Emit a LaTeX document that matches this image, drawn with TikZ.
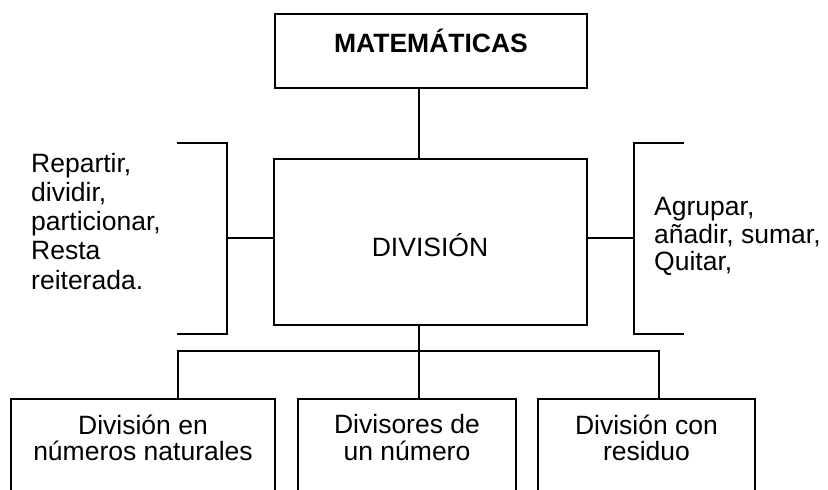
\documentclass[tikz,border=0pt]{standalone}
\usepackage{fontspec}
\setmainfont{Liberation Sans}
\begin{document}
\begin{tikzpicture}[x=1pt,y=-1pt,
  ln/.style={line width=1.7pt,line cap=rect},
  box/.style={draw,line width=1.7pt,rectangle,inner sep=0pt},
  txt/.style={inner sep=0pt,font=\fontsize{26.5}{29.25}\selectfont}]
\useasboundingbox (0,0) rectangle (828,490);
\clip (0,0) rectangle (828,490);
% boxes
\node[box,minimum width=312pt,minimum height=74pt] (mat) at (431,51) {};
\node[box,minimum width=313pt,minimum height=166pt] (div) at (430.5,242) {};
\node[box,minimum width=264pt,minimum height=160pt] (b1) at (143,479) {};
\node[box,minimum width=218pt,minimum height=160pt] (b2) at (407,479) {};
\node[box,minimum width=217pt,minimum height=160pt] (b3) at (646.5,479) {};
% texts
\node[txt,anchor=base,font=\fontsize{26.5}{29.25}\selectfont\bfseries] (tmat) at (431,52) {MATEMÁTICAS};
\node[txt,anchor=base] (tdiv) at (430,256) {DIVISIÓN};
\node[txt,anchor=north west,align=left] (tleft) at (31,152.7) {Repartir,\\dividir,\\particionar,\\Resta\\reiterada.};
\node[txt,anchor=north west,align=left,font=\fontsize{26.5}{27.5}\selectfont] (tright) at (654,197.5) {Agrupar,\\añadir, sumar,\\Quitar,};
\node[txt,anchor=north,align=center,font=\fontsize{26.5}{26.5}\selectfont] (t1) at (143,414.5) {División en\\números naturales};
\node[txt,anchor=north,align=center,font=\fontsize{26.5}{26.5}\selectfont] (t2) at (407,414.5) {Divisores de\\un número};
\node[txt,anchor=north,align=center,font=\fontsize{26.5}{26.5}\selectfont] (t3) at (646.5,414.5) {División con\\residuo};
% coordinates
\coordinate (cx) at (419,0);
\coordinate (c1) at (178,0);
\coordinate (c3) at (659,0);
\coordinate (hb) at (0,351);
\coordinate (lb) at (227,238);
\coordinate (rb) at (634,238);
\coordinate (lt) at (178,143);
\coordinate (lbt) at (178,334);
\coordinate (rt) at (683,143);
\coordinate (rbt) at (683,334);
% connectors
\draw[ln] (mat.south -| cx) -- (div.north -| cx);
\draw[ln] (div.south -| cx) -- (hb -| cx);
\draw[ln] (b1.north -| c1) -- (hb -| c1) -- (hb -| c3) -- (b3.north -| c3);
\draw[ln] (hb -| cx) -- (b2.north -| cx);
% brackets
\draw[ln] (lt) -| (lb) |- (lbt);
\draw[ln] (lb) -- (div.west |- lb);
\draw[ln] (rt) -| (rb) |- (rbt);
\draw[ln] (rb) -- (div.east |- rb);
\end{tikzpicture}
\end{document}
